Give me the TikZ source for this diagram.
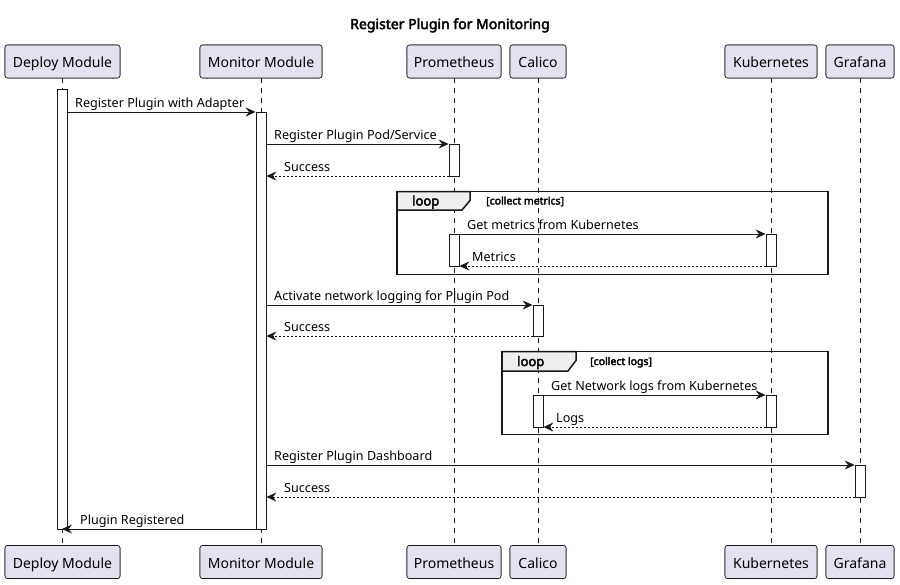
\documentclass[tikz,border=0pt]{standalone}
\usepackage{fontspec}
\setmainfont{Noto Sans}[AutoFakeBold=3]
\usetikzlibrary{arrows.meta}
\definecolor{lc}{HTML}{181818}
\definecolor{pfill}{HTML}{E2E2F0}
\definecolor{tabfill}{HTML}{EEEEEE}
\begin{document}
\begin{tikzpicture}[x=1pt,y=-1pt,
  part/.style={draw=lc, fill=pfill, rounded corners=2.5pt, minimum height=33pt, inner sep=0pt,
    text height=14pt, text depth=2pt, font=\fontsize{14}{16}\selectfont, line width=0.6pt, text=black},
  life/.style={draw=lc, line width=0.5pt, dash pattern=on 5pt off 5pt},
  act/.style={draw=lc, fill=white, line width=0.8pt, minimum width=10pt, inner sep=0pt},
  msg/.style={draw=lc, line width=1pt, -{Stealth[length=10pt,width=9pt,inset=3.5pt]}},
  ret/.style={msg, dash pattern=on 2pt off 2pt},
  lbl/.style={anchor=base west, inner sep=0pt, font=\fontsize{12.6}{15}\selectfont},
  frame/.style={draw=lc, line width=1.5pt},
  tab/.style={draw=lc, fill=tabfill, line width=1.5pt},
  looplbl/.style={anchor=base west, inner sep=0pt, font=\bfseries\fontsize{13}{15}\selectfont},
  guard/.style={anchor=base west, inner sep=0pt, font=\bfseries\fontsize{10.5}{12}\selectfont}
]
\useasboundingbox (0,0) rectangle (900,584);

\node[anchor=base, inner sep=0pt, font=\bfseries\fontsize{14}{16}\selectfont] (title) at (450,29) {Register Plugin for Monitoring};

% participants top
\node[part, minimum width=115pt] (dmT) at (62.5,61.5) {Deploy Module};
\node[part, minimum width=122pt] (mmT) at (261,61.5) {Monitor Module};
\node[part, minimum width=94pt] (prT) at (454,61.5) {Prometheus};
\node[part, minimum width=56pt] (caT) at (538,61.5) {Calico};
\node[part, minimum width=92pt] (kuT) at (771,61.5) {Kubernetes};
\node[part, minimum width=68pt] (grT) at (860,61.5) {Grafana};
% participants bottom
\node[part, minimum width=115pt] (dmB) at (62.5,562) {Deploy Module};
\node[part, minimum width=122pt] (mmB) at (261,562) {Monitor Module};
\node[part, minimum width=94pt] (prB) at (454,562) {Prometheus};
\node[part, minimum width=56pt] (caB) at (538,562) {Calico};
\node[part, minimum width=92pt] (kuB) at (771,562) {Kubernetes};
\node[part, minimum width=68pt] (grB) at (860,562) {Grafana};

% lifelines
\draw[life] (dmT.south -| 62,0) -- (dmB.north -| 62,0);
\draw[life] (mmT) -- (mmB);
\draw[life] (prT) -- (prB);
\draw[life] (caT) -- (caB);
\draw[life] (kuT) -- (kuB);
\draw[life] (grT) -- (grB);
% redraw boxes over lifelines
\node[part, minimum width=115pt] at (62.5,61.5) {Deploy Module};
\node[part, minimum width=122pt] at (261,61.5) {Monitor Module};
\node[part, minimum width=94pt] at (454,61.5) {Prometheus};
\node[part, minimum width=56pt] at (538,61.5) {Calico};
\node[part, minimum width=92pt] at (771,61.5) {Kubernetes};
\node[part, minimum width=68pt] at (860,61.5) {Grafana};
\node[part, minimum width=115pt] at (62.5,562) {Deploy Module};
\node[part, minimum width=122pt] at (261,562) {Monitor Module};
\node[part, minimum width=94pt] at (454,562) {Prometheus};
\node[part, minimum width=56pt] at (538,562) {Calico};
\node[part, minimum width=92pt] at (771,562) {Kubernetes};
\node[part, minimum width=68pt] at (860,562) {Grafana};

% loop frames
\draw[frame] (397,191.5) rectangle (828,274.5);
\filldraw[tab] (397,191.5) -- (470,191.5) -- (470,200.5) -- (462,210) -- (397,210) -- cycle;
\node[looplbl] (loop1) at (412,205.5) {loop};
\node[guard] (g1) at (486,204.5) {[collect metrics]};

\draw[frame] (502,351.5) rectangle (828,434.5);
\filldraw[tab] (502,351.5) -- (576,351.5) -- (576,360.5) -- (568,371) -- (502,371) -- cycle;
\node[looplbl] (loop2) at (517,366) {loop};
\node[guard] (g2) at (590,365) {[collect logs]};

% activation bars
\node[act, minimum height=440pt] (dmA) at (62,309) {};
\node[act, minimum height=417pt] (mmA) at (261,320.5) {};
\node[act, minimum height=32pt] (prA1) at (454,160) {};
\node[act, minimum height=32pt] (prA2) at (454,250) {};
\node[act, minimum height=32pt] (kuA1) at (771,250) {};
\node[act, minimum height=31pt] (caA1) at (538,320.5) {};
\node[act, minimum height=32pt] (caA2) at (538,411) {};
\node[act, minimum height=32pt] (kuA2) at (771,411) {};
\node[act, minimum height=32pt] (grA) at (860,481) {};

% messages
\draw[msg] (dmA.east |- 0,112) -- (mmA.west |- 0,112);
\node[lbl] (l1) at (75,107) {Register Plugin with Adapter};

\draw[msg] (mmA.east |- 0,144) -- (prA1.west |- 0,144);
\node[lbl] (l2) at (274,139) {Register Plugin Pod/Service};

\draw[ret] (prA1.west |- 0,176) -- (mmA.east |- 0,176);
\node[lbl] (l3) at (284,171) {Success};

\draw[msg] (prA2.east |- 0,234) -- (kuA1.west |- 0,234);
\node[lbl] (l4) at (467,229) {Get metrics from Kubernetes};

\draw[ret] (kuA1.west |- 0,266) -- (prA2.east |- 0,266);
\node[lbl] (l5) at (472,261) {Metrics};

\draw[msg] (mmA.east |- 0,305) -- (caA1.west |- 0,305);
\node[lbl] (l6) at (274,300) {Activate network logging for Plugin Pod};

\draw[ret] (caA1.west |- 0,336) -- (mmA.east |- 0,336);
\node[lbl] (l7) at (284,331) {Success};

\draw[msg] (caA2.east |- 0,395) -- (kuA2.west |- 0,395);
\node[lbl] (l8) at (551,390) {Get Network logs from Kubernetes};

\draw[ret] (kuA2.west |- 0,427) -- (caA2.east |- 0,427);
\node[lbl] (l9) at (556,422) {Logs};

\draw[msg] (mmA.east |- 0,465) -- (grA.west |- 0,465);
\node[lbl] (l10) at (274,460) {Register Plugin Dashboard};

\draw[ret] (grA.west |- 0,497) -- (mmA.east |- 0,497);
\node[lbl] (l11) at (284,492) {Success};

\draw[msg] (mmA.west |- 0,529) -- (dmA.center |- 0,529);
\node[lbl] (l12) at (80,524) {Plugin Registered};
\end{tikzpicture}
\end{document}
